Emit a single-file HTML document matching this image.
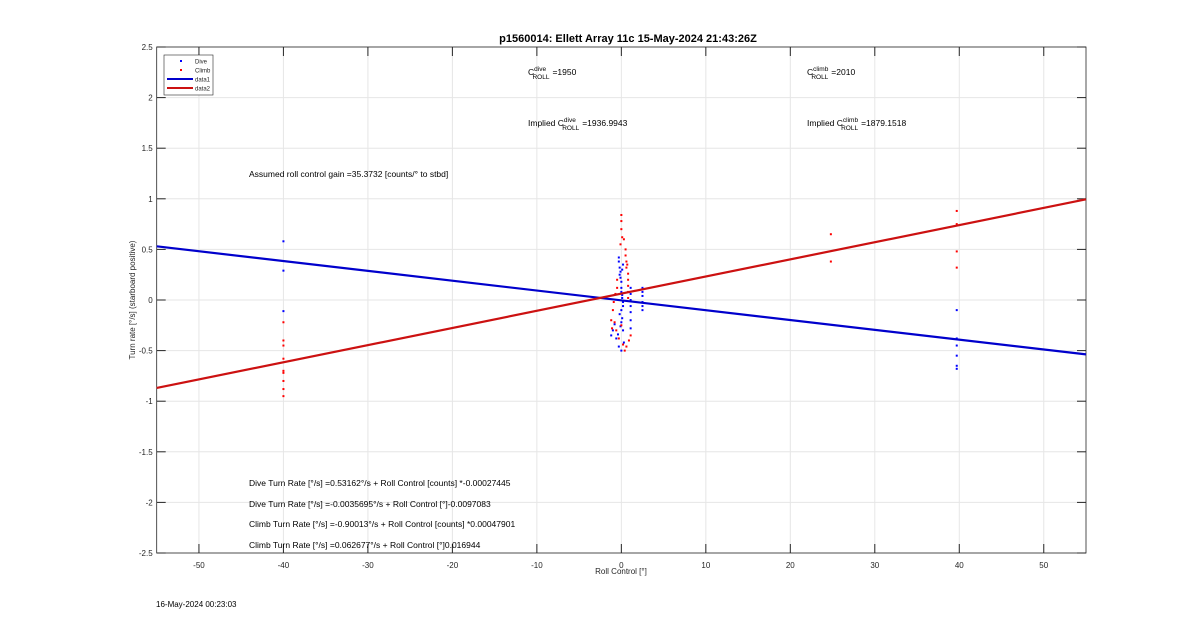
<!DOCTYPE html>
<html><head><meta charset="utf-8"><style>
body{margin:0;background:#fff;font-family:"Liberation Sans",Arial,sans-serif}
svg text{font-family:"Liberation Sans",Arial,sans-serif}
</style></head><body>
<svg id="c" width="1200" height="622" xmlns="http://www.w3.org/2000/svg"></svg>
<script>
const xTicks=[-50,-40,-30,-20,-10,0,10,20,30,40,50];
const yTicks=[-2.5,-2,-1.5,-1,-0.5,0,0.5,1,1.5,2,2.5];
const yTickLabels=["-2.5","-2","-1.5","-1","-0.5","0","0.5","1","1.5","2","2.5"];
const diveFit=[-0.0035695,-0.0097083];
const climbFit=[0.062677,0.016944];
const diveX=[-40,-40,-40,39.7,39.7,39.7,39.7,39.7,39.7,-0.3,-0.3,-0.2,-0.1,-0.1,0,0,0,0.1,0.1,0.2,0.2,0,-0.2,0.1,0,-0.1,0.2,-0.4,-0.6,1.1,1.1,1.1,1.1,1.1,1.1,1.1,2.5,2.5,2.5,2.5,2.5,2.5,0.3,-0.3,0,0.1,-0.2,0.2,-1.2,-1.0,-0.8];
const diveY=[0.58,0.29,-0.11,-0.1,-0.38,-0.45,-0.55,-0.65,-0.68,0.42,0.38,0.32,0.28,0.22,0.18,0.12,0.08,0.05,0.02,-0.02,-0.06,-0.1,-0.14,-0.18,-0.22,-0.26,-0.3,-0.34,-0.38,0.12,0.06,0,-0.06,-0.12,-0.2,-0.28,0.12,0.08,0.04,-0.02,-0.06,-0.1,-0.42,-0.46,-0.5,0.3,0.25,0.35,-0.35,-0.3,-0.24];
const climbX=[-40,-40,-40,-40,-40,-40,-40,-40,-40,24.8,24.8,39.7,39.7,39.7,39.7,0,0,0,0.1,-0.1,0.3,0.5,0.5,0.6,0.6,0.8,0.8,0.8,0.8,0.8,-0.5,-0.7,-0.9,-1.0,-1.2,-0.6,-0.3,0.2,0.4,0.6,0.9,1.1,-1.1,-0.8,0,0.7,-0.5];
const climbY=[-0.22,-0.4,-0.45,-0.58,-0.7,-0.72,-0.8,-0.88,-0.95,0.65,0.38,0.88,0.75,0.48,0.32,0.84,0.78,0.7,0.62,0.55,0.6,0.5,0.44,0.38,0.32,0.26,0.2,0.14,0.08,0.02,0.12,0.06,-0.02,-0.1,-0.2,-0.3,-0.38,-0.44,-0.5,-0.46,-0.4,-0.35,-0.28,-0.22,-0.25,0.35,0.2];
const X0=156.7,X1=1086,Y0=47,Y1=553;
const sx=v=>X0+(v+55)/110*(X1-X0);
const sy=v=>Y1-(v+2.5)/5*(Y1-Y0);
const svg=document.getElementById('c');
function mk(t,a,p){const e=document.createElementNS('http://www.w3.org/2000/svg',t);for(const k in a)e.setAttribute(k,a[k]);(p||svg).appendChild(e);return e;}
function tx(x,y,s,sz,anc,nm,extra){const e=mk('text',Object.assign({x:x,y:y,'font-size':sz,'text-anchor':anc||'start',fill:'#262626'},extra||{}));e.textContent=s;return e;}
const grid=mk('g',{});
xTicks.forEach(v=>{mk('line',{x1:sx(v),x2:sx(v),y1:Y0,y2:Y1,stroke:'#e6e6e6','stroke-width':1},grid);
 mk('line',{x1:sx(v),x2:sx(v),y1:Y1,y2:Y1-9,stroke:'#262626'});mk('line',{x1:sx(v),x2:sx(v),y1:Y0,y2:Y0+9,stroke:'#262626'});
 tx(sx(v),Y1+15,String(v),8,'middle','x-tick-label');});
yTicks.forEach((v,i)=>{mk('line',{x1:X0,x2:X1,y1:sy(v),y2:sy(v),stroke:'#e6e6e6','stroke-width':1},grid);
 mk('line',{x1:X0,x2:X0+9,y1:sy(v),y2:sy(v),stroke:'#262626'});mk('line',{x1:X1,x2:X1-9,y1:sy(v),y2:sy(v),stroke:'#262626'});
 tx(X0-4,sy(v)+3,yTickLabels[i],8,'end','y-tick-label');});
const ax=mk('rect',{x:X0,y:Y0,width:X1-X0,height:Y1-Y0,fill:'none',stroke:'#262626','stroke-width':0.8});

function fitLine(f,col,nm){const l=mk('line',{x1:sx(-55),y1:sy(f[0]+f[1]*-55),x2:sx(55),y2:sy(f[0]+f[1]*55),stroke:col,'stroke-width':2.2});}
diveX.forEach((v,i)=>{const p=mk('rect',{x:sx(v)-1,y:sy(diveY[i])-1,width:2,height:2,fill:'#0000ff'});});
climbX.forEach((v,i)=>{const p=mk('rect',{x:sx(v)-1,y:sy(climbY[i])-1,width:2,height:2,fill:'#ff0000'});});
fitLine(diveFit,'#0000cc','dive-fit-line');
fitLine(climbFit,'#cc1111','climb-fit-line');
tx(628,42,'p1560014: Ellett Array 11c 15-May-2024 21:43:26Z',11,'middle','chart-title',{'font-weight':'bold',fill:'#000'});
tx(621,574,'Roll Control [°]',8,'middle','x-axis-title');
const yt=tx(0,0,'Turn rate [°/s] (starboard positive)',8,'middle','y-axis-title');yt.setAttribute('transform','translate(135,300) rotate(-90)');
tx(156,607,'16-May-2024 00:23:03',8,'start','timestamp',{fill:'#000'});
// legend
const lg=mk('rect',{x:164,y:55,width:49,height:40,fill:'#fff',stroke:'#262626','stroke-width':0.6});
mk('rect',{x:180,y:60,width:2,height:2,fill:'#0000ff'});tx(195,63.5,'Dive',6,'start','legend-dive');
mk('rect',{x:180,y:69,width:2,height:2,fill:'#ff0000'});tx(195,72.5,'Climb',6,'start','legend-climb');
mk('line',{x1:167,x2:193,y1:79,y2:79,stroke:'#0000cc','stroke-width':2});tx(195,81.5,'data1',6,'start','legend-data1');
mk('line',{x1:167,x2:193,y1:88,y2:88,stroke:'#cc1111','stroke-width':2});tx(195,90.5,'data2',6,'start','legend-data2');
function cTxt(x,y,pre,sup,val,nm){const t=tx(x,y,'',8.5,'start',nm,{fill:'#000'});
 const a=mk('tspan',{},t);a.textContent=pre+'C';const b=mk('tspan',{dy:-4,'font-size':6.5},t);b.textContent=sup;
 const c=mk('tspan',{dx:-(sup.length*3.4),dy:8,'font-size':6.5},t);c.textContent='ROLL';const d=mk('tspan',{dy:-4,dx:3},t);d.textContent='=' + val;}
cTxt(528,75,'','dive','1950','c-roll-dive');
cTxt(807,75,'','climb','2010','c-roll-climb');
cTxt(528,126,'Implied ','dive','1936.9943','implied-c-dive');
cTxt(807,126,'Implied ','climb','1879.1518','implied-c-climb');
tx(249,177,'Assumed roll control gain =35.3732 [counts/° to stbd]',8.5,'start','gain-text',{fill:'#000'});
tx(249,486,'Dive Turn Rate [°/s] =0.53162°/s + Roll Control [counts] *-0.00027445',8.5,'start','eq-dive-counts',{fill:'#000'});
tx(249,507,'Dive Turn Rate [°/s] =-0.0035695°/s + Roll Control [°]-0.0097083',8.5,'start','eq-dive-deg',{fill:'#000'});
tx(249,527,'Climb Turn Rate [°/s] =-0.90013°/s + Roll Control [counts] *0.00047901',8.5,'start','eq-climb-counts',{fill:'#000'});
tx(249,548,'Climb Turn Rate [°/s] =0.062677°/s + Roll Control [°]0.016944',8.5,'start','eq-climb-deg',{fill:'#000'});
</script>
</body></html>
